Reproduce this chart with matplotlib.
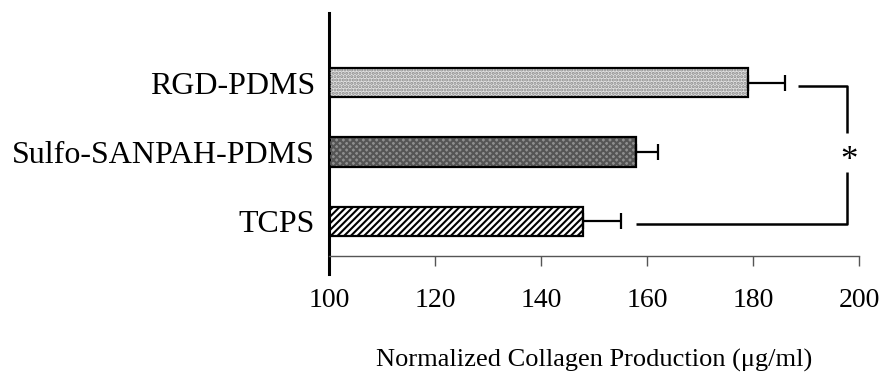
import matplotlib
matplotlib.use("Agg")
import matplotlib.pyplot as plt
import numpy as np

categories = ["TCPS", "Sulfo-SANPAH-PDMS", "RGD-PDMS"]
means = [148, 158, 179]
errors = [7, 4, 7]
xticks = [100, 120, 140, 160, 180, 200]
xlabel = "Normalized Collagen Production (\u03bcg/ml)"

plt.rcParams['font.family'] = ['Liberation Serif', 'DejaVu Serif']
plt.rcParams['hatch.linewidth'] = 1.5

fig = plt.figure(figsize=(8.82, 3.76), dpi=100)
ax = fig.add_axes([0.373, 0.271, 0.601, 0.694])

y = np.arange(len(categories))
faces = ['white', '#8e8e8e', '#e2e2e2']
hatches = ['/////', 'xxxxx', '.....']
hcolors = ['black', '#555555', '#888888']
h = 0.42
left = 100
for i in range(len(categories)):
    ax.barh(y[i], means[i] - left, left=left, height=h, color=faces[i],
            edgecolor='none', zorder=2)
    ax.barh(y[i], means[i] - left, left=left, height=h, color='none',
            edgecolor=hcolors[i], hatch=hatches[i], linewidth=0, zorder=3)
    ax.barh(y[i], means[i] - left, left=left, height=h, color='none',
            edgecolor='black', linewidth=1.6, zorder=4)

ax.errorbar(means, y, xerr=[np.zeros(len(means)), errors], fmt='none',
            ecolor='black', elinewidth=1.6, capsize=6, capthick=1.6, zorder=5)

# significance bracket between RGD-PDMS and TCPS
bx = 197.7
top_y, bot_y = y[2] - 0.05, y[0] - 0.04
top_x0 = means[2] + errors[2] + 2.5
bot_x0 = means[0] + errors[0] + 3
kw = dict(color='black', lw=1.8, solid_capstyle='butt', clip_on=False)
ax.plot([top_x0, bx, bx], [top_y, top_y, 1.28], **kw)
ax.plot([bot_x0, bx, bx], [bot_y, bot_y, 0.71], **kw)
ax.text(bx + 0.4, 0.86, "*", ha='center', va='center', fontsize=25)

ax.set_xlim(100, 200)
ax.set_ylim(-0.76, 3.0)
ax.set_xticks(xticks)
ax.set_yticks(y)
ax.set_yticklabels(categories)

for s in ['top', 'right']:
    ax.spines[s].set_visible(False)
ax.spines['left'].set_linewidth(2.2)
ax.spines['bottom'].set_position(('data', -0.5))
ax.spines['bottom'].set_color('#555555')
ax.spines['bottom'].set_linewidth(1.0)

ax.tick_params(axis='y', length=0, pad=10, labelsize=23)
ax.tick_params(axis='x', direction='out', length=7, width=1.0, color='#555555',
               pad=16, labelsize=20)
ax.set_xlabel(xlabel, fontsize=19, labelpad=26)

fig.savefig("out.png", dpi=100, facecolor='white')
